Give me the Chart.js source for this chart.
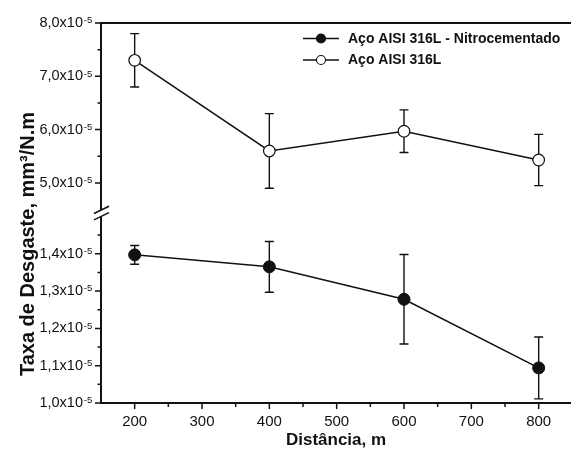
<!DOCTYPE html>
<html>
<head>
<meta charset="utf-8">
<script src="https://cdn.jsdelivr.net/npm/chart.js@4"></script>
<style>
html,body{margin:0;padding:0;background:#fff;}
canvas{display:block;}
</style>
</head>
<body>
<canvas id="c" width="571" height="457"></canvas>
<script>
// ---- data ----
const distances = [200, 400, 600, 800];
const nitroLabel = 'Aço AISI 316L - Nitrocementado';
const nitroValues = [1.397e-5, 1.365e-5, 1.278e-5, 1.094e-5];
const nitroErrors = [0.025e-5, 0.068e-5, 0.120e-5, 0.083e-5];
const baseLabel = 'Aço AISI 316L';
const baseValues = [7.30e-5, 5.60e-5, 5.97e-5, 5.43e-5];
const baseErrors = [0.50e-5, 0.70e-5, 0.40e-5, 0.48e-5];

const xTickValues = [200, 300, 400, 500, 600, 700, 800];
const xMinorTicks = [250, 350, 450, 550, 650, 750];
const yUpperTickValues = [5.0e-5, 6.0e-5, 7.0e-5, 8.0e-5];
const yUpperTickLabels = ['5,0x10', '6,0x10', '7,0x10', '8,0x10'];
const yUpperMinor = [5.5e-5, 6.5e-5, 7.5e-5];
const yLowerTickValues = [1.0e-5, 1.1e-5, 1.2e-5, 1.3e-5, 1.4e-5];
const yLowerTickLabels = ['1,0x10', '1,1x10', '1,2x10', '1,3x10', '1,4x10'];
const yLowerMinor = [1.05e-5, 1.15e-5, 1.25e-5, 1.35e-5, 1.45e-5];
const tickExponent = '-5';
const xTitle = 'Distância, m';
const yTitle = 'Taxa de Desgaste, mm³/N.m';

const FONT = "'Liberation Sans', Arial, Helvetica, sans-serif";
const INK = '#111';
const Y_LABEL_PAD = 18;

const errorsByDataset = [nitroErrors, baseErrors];

const decor = {
  id: 'decor',
  beforeDatasetsDraw(chart) {
    const ctx = chart.ctx;
    ctx.save();
    ctx.strokeStyle = INK;
    ctx.lineWidth = 1.4;
    chart.data.datasets.forEach((ds, i) => {
      const ys = chart.scales[ds.yAxisID];
      const xs = chart.scales.x;
      const errs = errorsByDataset[i];
      ds.data.forEach((p, j) => {
        const px = xs.getPixelForValue(p.x);
        const top = ys.getPixelForValue(p.y + errs[j]);
        const bot = ys.getPixelForValue(p.y - errs[j]);
        ctx.beginPath();
        ctx.moveTo(px, top); ctx.lineTo(px, bot);
        ctx.moveTo(px - 4.5, top); ctx.lineTo(px + 4.5, top);
        ctx.moveTo(px - 4.5, bot); ctx.lineTo(px + 4.5, bot);
        ctx.stroke();
      });
    });
    ctx.restore();
  },
  afterDraw(chart) {
    const ctx = chart.ctx;
    const area = chart.chartArea;
    const xs = chart.scales.x, yHi = chart.scales.yHi, yLo = chart.scales.yLo;
    const L = area.left, B = area.bottom, T = area.top;
    ctx.save();
    ctx.strokeStyle = INK;
    ctx.lineCap = 'butt';
    // frame lines
    const breakTop = yHi.bottom - 0.2;
    const breakBot = yHi.bottom + 6.2;
    ctx.lineWidth = 2;
    ctx.beginPath();
    ctx.moveTo(L, T - 1); ctx.lineTo(L, breakTop);
    ctx.moveTo(L, breakBot); ctx.lineTo(L, B + 1);
    ctx.moveTo(L - 1, B); ctx.lineTo(area.right + 2, B);
    ctx.moveTo(L - 1, T); ctx.lineTo(area.right + 2, T);
    ctx.stroke();
    // break marks
    ctx.lineWidth = 1.5;
    ctx.beginPath();
    ctx.moveTo(L - 7, breakTop + 3.6); ctx.lineTo(L + 8, breakTop - 3.6);
    ctx.moveTo(L - 7, breakBot + 3.6); ctx.lineTo(L + 8, breakBot - 3.6);
    ctx.stroke();
    // ticks
    ctx.lineWidth = 1.5;
    ctx.beginPath();
    xTickValues.forEach(v => { const p = xs.getPixelForValue(v); ctx.moveTo(p, B); ctx.lineTo(p, B + 6); });
    xMinorTicks.forEach(v => { const p = xs.getPixelForValue(v); ctx.moveTo(p, B); ctx.lineTo(p, B + 4); });
    yUpperTickValues.forEach(v => { const p = yHi.getPixelForValue(v); ctx.moveTo(L, p); ctx.lineTo(L - 6, p); });
    yUpperMinor.forEach(v => { const p = yHi.getPixelForValue(v); ctx.moveTo(L, p); ctx.lineTo(L - 3.5, p); });
    yLowerTickValues.forEach(v => { const p = yLo.getPixelForValue(v); ctx.moveTo(L, p); ctx.lineTo(L - 6, p); });
    yLowerMinor.forEach(v => { const p = yLo.getPixelForValue(v); ctx.moveTo(L, p); ctx.lineTo(L - 3.5, p); });
    ctx.stroke();
    // exponents of the y tick labels (superscript)
    ctx.fillStyle = INK;
    ctx.font = '9.5px ' + FONT;
    ctx.textAlign = 'left';
    ctx.textBaseline = 'alphabetic';
    [[yHi, yUpperTickValues], [yLo, yLowerTickValues]].forEach(([s, vals]) => {
      vals.forEach(v => {
        const p = s.getPixelForValue(v);
        ctx.fillText(tickExponent, s.right - Y_LABEL_PAD + 0.8, p + 0.3);
      });
    });
    // y title
    ctx.font = 'bold 20px ' + FONT;
    ctx.textAlign = 'center';
    ctx.textBaseline = 'alphabetic';
    ctx.translate(33.5, 244);
    ctx.rotate(-Math.PI / 2);
    ctx.fillText(yTitle, 0, 0);
    ctx.restore();
    // legend
    ctx.save();
    const rows = [
      {label: nitroLabel, fill: INK, y: 38.5},
      {label: baseLabel, fill: '#fff', y: 60}
    ];
    rows.forEach(r => {
      ctx.strokeStyle = INK;
      ctx.lineWidth = 1.5;
      ctx.beginPath(); ctx.moveTo(303, r.y); ctx.lineTo(339, r.y); ctx.stroke();
      ctx.beginPath(); ctx.arc(321, r.y, 4.5, 0, Math.PI * 2);
      ctx.fillStyle = r.fill; ctx.fill();
      ctx.lineWidth = 1.1; ctx.stroke();
      ctx.fillStyle = INK;
      ctx.font = 'bold 14px ' + FONT;
      ctx.textAlign = 'left';
      ctx.textBaseline = 'middle';
      ctx.fillText(r.label, 348, r.y + 0.5);
    });
    ctx.restore();
  }
};

const hiMin = 4.49e-5, hiMax = 8.0e-5, loMin = 1.0e-5, loMax = 1.517e-5;

function fitY(s) { s.width = 101; s.paddingTop = 0; s.paddingBottom = 0; }

new Chart(document.getElementById('c'), {
  type: 'line',
  data: {
    datasets: [
      {
        label: nitroLabel,
        yAxisID: 'yLo',
        data: distances.map((d, i) => ({x: d, y: nitroValues[i]})),
        borderColor: INK, borderWidth: 1.5,
        pointRadius: 6, pointBackgroundColor: INK, pointBorderColor: INK, pointBorderWidth: 1,
        tension: 0, clip: false
      },
      {
        label: baseLabel,
        yAxisID: 'yHi',
        data: distances.map((d, i) => ({x: d, y: baseValues[i]})),
        borderColor: INK, borderWidth: 1.5,
        pointRadius: 5.8, pointBackgroundColor: '#fff', pointBorderColor: INK, pointBorderWidth: 1.2,
        tension: 0, clip: false
      }
    ]
  },
  options: {
    responsive: false,
    animation: false,
    devicePixelRatio: 1,
    layout: {autoPadding: false, padding: {top: 23, left: 0, right: 0, bottom: 0}},
    plugins: {legend: {display: false}, tooltip: {enabled: false}},
    scales: {
      x: {
        type: 'linear', position: 'bottom', min: 150, max: 848,
        afterBuildTicks: s => { s.ticks = xTickValues.map(v => ({value: v})); },
        afterFit: s => { s.height = 54; s.paddingLeft = 0; s.paddingRight = 0; },
        grid: {display: false, drawTicks: false},
        border: {display: false},
        ticks: {color: INK, font: {family: FONT, size: 15}, padding: 10, autoSkip: false, maxRotation: 0,
                callback: v => String(v)},
        title: {display: true, text: xTitle, color: INK, font: {family: FONT, size: 17, weight: 'bold'},
                padding: {top: 0, bottom: 6}}
      },
      yLo: {
        type: 'linear', position: 'left', stack: 'ystack', stackWeight: (loMax - loMin) * 373.3e5, weight: 0,
        min: loMin, max: loMax,
        afterBuildTicks: s => { s.ticks = yLowerTickValues.map(v => ({value: v})); },
        afterFit: fitY,
        grid: {display: false, drawTicks: false},
        border: {display: false},
        ticks: {color: INK, font: {family: FONT, size: 14.5}, padding: Y_LABEL_PAD,
                callback: (v, i) => yLowerTickLabels[i]}
      },
      yHi: {
        type: 'linear', position: 'left', stack: 'ystack', stackWeight: (hiMax - hiMin) * 53.33e5, weight: 1,
        min: hiMin, max: hiMax,
        afterBuildTicks: s => { s.ticks = yUpperTickValues.map(v => ({value: v})); },
        afterFit: fitY,
        grid: {display: false, drawTicks: false},
        border: {display: false},
        ticks: {color: INK, font: {family: FONT, size: 14.5}, padding: Y_LABEL_PAD,
                callback: (v, i) => yUpperTickLabels[i]}
      }
    }
  },
  plugins: [decor]
});
</script>
</body>
</html>
